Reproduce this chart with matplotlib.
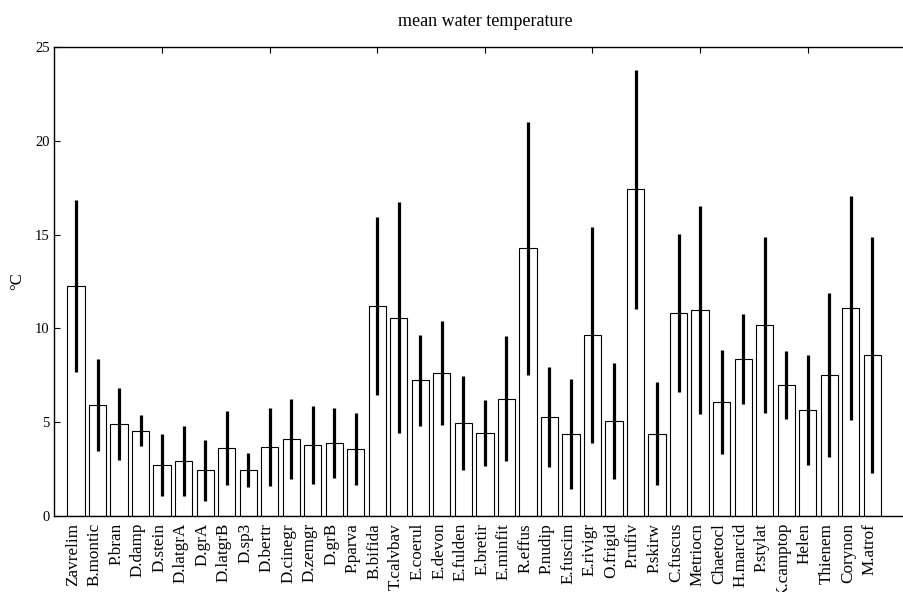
import matplotlib
matplotlib.use("Agg")
import matplotlib.pyplot as plt
import matplotlib.transforms as mtransforms
import numpy as np

plt.rcParams['font.family'] = ['Liberation Serif', 'DejaVu Serif']

categories = ["Zavrelim", "B.montic", "P.bran", "D.damp", "D.stein", "D.latgrA", "D.grA",
              "D.latgrB", "D.sp3", "D.bertr", "D.cinegr", "D.zemgr", "D.grB", "P.parva",
              "B.bifida", "T.calvbav", "E.coerul", "E.devon", "E.fulden", "E.bretir",
              "E.minfit", "R.effus", "P.nudip", "E.fuscim", "E.rivigr", "O.frigid",
              "P.rufiv", "P.skirw", "C.fuscus", "Metriocn", "Chaetocl", "H.marcid",
              "P.stylat", "K.camptop", "Helen", "Thienem", "Corynon", "M.atrof"]

mean_temp = [12.26, 5.92, 4.90, 4.55, 2.70, 2.93, 2.43, 3.62, 2.43, 3.68, 4.10, 3.78, 3.89,
             3.57, 11.19, 10.57, 7.23, 7.64, 4.96, 4.42, 6.24, 14.27, 5.28, 4.39, 9.65,
             5.08, 17.41, 4.39, 10.82, 10.98, 6.09, 8.37, 10.18, 6.98, 5.65, 7.53, 11.09, 8.58]

std_temp = [4.59, 2.47, 1.93, 0.84, 1.66, 1.87, 1.64, 1.96, 0.91, 2.06, 2.15, 2.09, 1.87,
            1.93, 4.73, 6.16, 2.43, 2.77, 2.49, 1.74, 3.33, 6.75, 2.66, 2.93, 5.75,
            3.09, 6.35, 2.75, 4.22, 5.55, 2.78, 2.38, 4.71, 1.82, 2.95, 4.37, 5.98, 6.27]

yticks = [0, 5, 10, 15, 20, 25]
xticks = [5, 10, 15, 20, 25, 30, 35]

W, H = 904, 592
fig = plt.figure(figsize=(W / 100, H / 100), dpi=100)
ax = fig.add_axes([54.5 / W, 76 / H, 860.8 / W, 469 / H])

x = np.arange(1, len(categories) + 1)
ax.bar(x, mean_temp, width=0.8, color='white', edgecolor='black', linewidth=0.8, zorder=2)
ax.errorbar(x, mean_temp, yerr=std_temp, fmt='none', ecolor='black', elinewidth=2.3,
            capsize=0, zorder=3)

ax.set_xlim(0, 40)
ax.set_ylim(0, 25)
ax.set_yticks(yticks)
ax.set_xticks(xticks)
ax.set_xticklabels([])
ax.tick_params(axis='both', direction='in', length=4.5, width=0.8, top=True, right=True,
               labelsize=10.5, pad=3.5)
for s in ax.spines.values():
    s.set_linewidth(1.0)

offset = mtransforms.ScaledTranslation(-2 / 72, -5 / 72, fig.dpi_scale_trans)
trans = mtransforms.blended_transform_factory(ax.transData, ax.transAxes) + offset
for xi, lab in zip(x, categories):
    ax.text(xi, 0, lab, rotation=90, ha='center', va='top', fontsize=12.3,
            transform=trans)

ax.set_ylabel('°C', fontsize=12)
ax.yaxis.set_label_coords((25 - 54.5) / 860.8, 0.5)
ax.set_title('mean water temperature', fontsize=13, pad=15)

fig.savefig('out.png', dpi=100)
